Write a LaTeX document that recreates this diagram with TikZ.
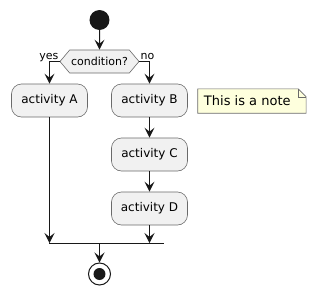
\documentclass[tikz,border=0pt]{standalone}
\usepackage{fontspec}
\setmainfont{DejaVu Sans}
\usetikzlibrary{arrows.meta,shapes.symbols,calc}
\definecolor{ln}{HTML}{181818}
\definecolor{bx}{HTML}{F1F1F1}
\definecolor{bd}{HTML}{6A6A6A}
\definecolor{nt}{HTML}{FEFFDD}
\begin{document}
\begin{tikzpicture}[x=1pt,y=-1pt,
  line/.style={draw=ln, line width=1pt},
  arr/.style={line, -{Stealth[length=10pt,width=10pt,inset=4pt]}},
  act/.style={draw=bd, fill=bx, rounded corners=10pt, line width=0.6pt,
    minimum width=76pt, minimum height=33pt, inner sep=0pt,
    font=\fontsize{12}{14}\selectfont},
  condbox/.style={shape=signal, signal to=west and east, draw=bd, fill=bx,
    line width=0.6pt, minimum width=79pt, minimum height=23pt, inner sep=1pt,
    signal pointer angle=100, font=\fontsize{11}{13}\selectfont},
  lbl/.style={inner sep=0pt, font=\fontsize{11}{13}\selectfont},
  startc/.style={circle, fill=ln, draw=none, minimum size=20pt, inner sep=0pt},
  notebox/.style={inner sep=0pt, minimum width=108pt, minimum height=24pt},
  notetext/.style={inner sep=0pt, font=\fontsize{13}{15}\selectfont}
]
\useasboundingbox (0,0) rectangle (317,295);

\node[startc] (start) at (99.5,20) {};
\node[condbox] (cond) at (99.5,61.5) {condition?};
\node[act] (A) at (49.5,100.5) {activity A};
\node[act] (B) at (149.5,100.5) {activity B};
\node[act] (C) at (149.5,154.5) {activity C};
\node[act] (D) at (149.5,208.5) {activity D};

\node[notebox] (N) at (252,101) {};
\draw[draw=bd, fill=nt, line width=0.6pt]
  (N.north west) -- ($(N.north east)+(-8,0)$) -- ($(N.north east)+(0,8)$)
  -- (N.south east) -- (N.south west) -- cycle;
\draw[draw=bd, line width=0.6pt]
  ($(N.north east)+(-8,0)$) -- ($(N.north east)+(-8,8)$) -- ($(N.north east)+(0,8)$);
\node[notetext, anchor=west] (NT) at ($(N.west)+(6,0)$) {This is a note};

\node[circle, draw=ln, line width=1pt, fill=white, minimum size=22pt, inner sep=0pt] (end) at (99.5,274) {};
\node[circle, fill=ln, minimum size=12pt, inner sep=0pt] (endin) at (end.center) {};

\coordinate (barL) at (49.5,243);
\coordinate (barR) at (164,243);
\coordinate (barM) at (99.5,243);

\draw[arr] (start) -- (cond);
\draw[arr] (cond.west) -| (A.north);
\draw[arr] (cond.east) -| (B.north);
\node[lbl, anchor=base east] at (58.5,59) {yes};
\node[lbl, anchor=base west] at (140.5,59) {no};
\draw[arr] (B) -- (C);
\draw[arr] (C) -- (D);
\draw[arr] (A.south) -- (A.south |- barL);
\draw[arr] (D.south) -- (D.south |- barL);
\draw[line] (barL) -- (barR);
\draw[arr] (barM) -- (end);
\end{tikzpicture}
\end{document}
